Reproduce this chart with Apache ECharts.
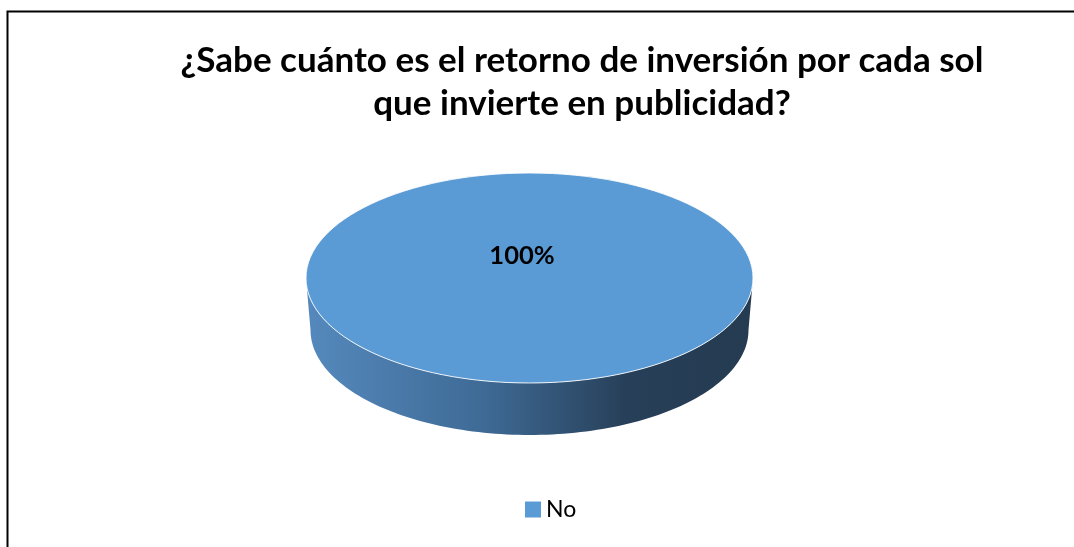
<!DOCTYPE html>
<html>
<head>
<meta charset="utf-8">
<script src="https://cdn.jsdelivr.net/npm/echarts@6/dist/echarts.min.js"></script>
<style>
html,body{margin:0;padding:0;background:#fff;}
#chart{width:1074px;height:547px;}
</style>
</head>
<body>
<div id="chart"></div>
<script>
// ---- data ----
var titleText = '¿Sabe cuánto es el retorno de inversión por cada sol\nque invierte en publicidad?';
var categories = ['No'];
var values = [100];
var colors = ['#5b9bd5'];

var total = values.reduce(function (a, b) { return a + b; }, 0);

// layout of the 3D pie
var CX = 529.5, CY = 278, RX = 223.5, RY = 105, DEPTH = 52, RX_BOTTOM = 219;

function renderItem(params, api) {
  var idx = params.dataIndex;
  var before = 0;
  for (var i = 0; i < idx; i++) before += values[i];
  var v = api.value(0);
  var a0 = -Math.PI / 2 + before / total * Math.PI * 2;
  var a1 = a0 + v / total * Math.PI * 2;
  var full = (a1 - a0) >= Math.PI * 2 - 1e-6;
  var children = [];

  var ranges = [];
  var k;
  for (k = -1; k <= 1; k++) {
    var s = Math.max(a0, k * 2 * Math.PI), e = Math.min(a1, k * 2 * Math.PI + Math.PI);
    if (e > s) ranges.push([s, e]);
  }
  ranges.forEach(function (r) {
    var pts = [], n = 120, t, j;
    for (j = 0; j <= n; j++) {
      t = r[0] + (r[1] - r[0]) * j / n;
      pts.push([CX + RX * Math.cos(t), CY + RY * Math.sin(t)]);
    }
    for (j = n; j >= 0; j--) {
      t = r[0] + (r[1] - r[0]) * j / n;
      pts.push([CX + RX_BOTTOM * Math.cos(t), CY + DEPTH + RY * Math.sin(t)]);
    }
    children.push({
      type: 'polygon',
      shape: { points: pts },
      style: {
        fill: new echarts.graphic.LinearGradient(0, 0, 1, 0, [
          { offset: 0, color: '#5589bd' },
          { offset: 0.4, color: '#3e6a95' },
          { offset: 0.72, color: '#273f58' },
          { offset: 1, color: '#243b51' }
        ])
      }
    });
  });

  if (full) {
    children.push({
      type: 'ellipse',
      shape: { cx: CX, cy: CY, rx: RX, ry: RY },
      style: { fill: colors[idx], stroke: 'rgba(255,255,255,0.85)', lineWidth: 1 }
    });
  } else {
    var tp = [[CX, CY]];
    for (var m = 0; m <= 180; m++) {
      var tt = a0 + (a1 - a0) * m / 180;
      tp.push([CX + RX * Math.cos(tt), CY + RY * Math.sin(tt)]);
    }
    children.push({ type: 'polygon', shape: { points: tp }, style: { fill: colors[idx] } });
  }

  var pct = Math.round(v / total * 100) + '%';
  children.push({
    type: 'text',
    x: CX - 7.5, y: CY - 22,
    style: {
      text: pct, fill: '#000', font: 'bold 25.5px Lato',
      align: 'center', verticalAlign: 'middle'
    }
  });
  return { type: 'group', children: children };
}

var chart = echarts.init(document.getElementById('chart'), null, { renderer: 'canvas' });
chart.setOption({
  backgroundColor: '#fff',
  animation: false,
  title: {
    text: titleText,
    left: 577,
    top: 34,
    textAlign: 'center',
    textStyle: {
      fontFamily: 'Lato', fontWeight: 'bold', fontSize: 35, lineHeight: 43, color: '#000'
    }
  },
  legend: {
    data: categories,
    left: 520,
    top: 493,
    icon: 'rect',
    itemWidth: 16,
    itemHeight: 16,
    itemGap: 10,
    textStyle: { fontFamily: 'Lato', fontSize: 23, color: '#000' }
  },
  graphic: [{
    type: 'polyline',
    shape: { points: [[7.5, 560], [7.5, 11.5], [1090, 11.5]] },
    style: { stroke: '#000', lineWidth: 2, fill: null }
  }],
  series: [{
    type: 'custom',
    name: categories[0],
    coordinateSystem: 'none',
    itemStyle: { color: colors[0] },
    renderItem: renderItem,
    data: values.map(function (v, i) { return { name: categories[i], value: [v] }; })
  }]
});
</script>
</body>
</html>
